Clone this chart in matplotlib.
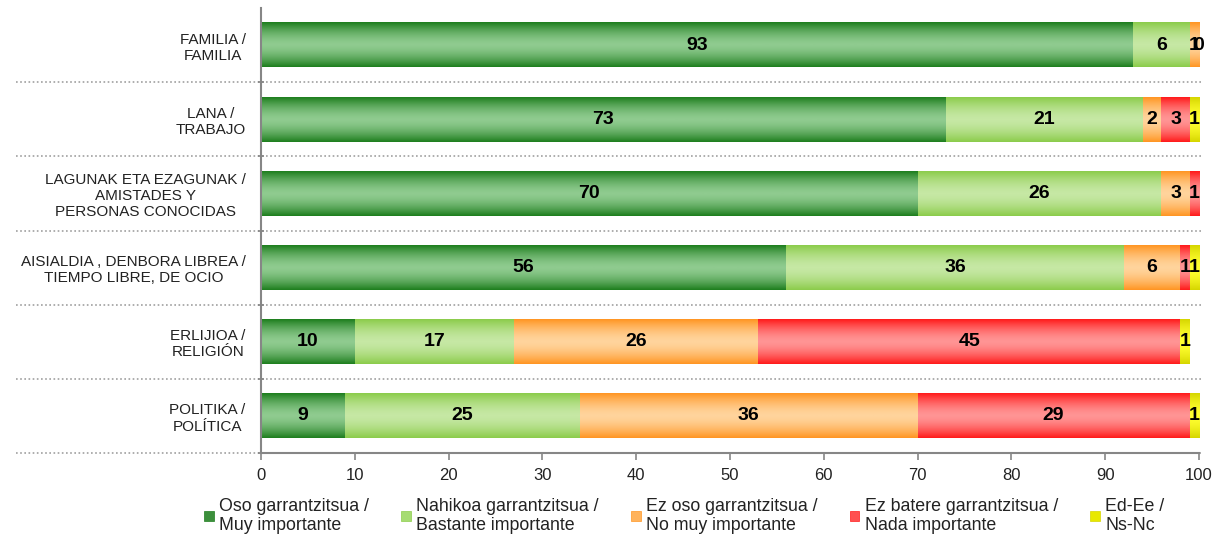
import numpy as np
import matplotlib.pyplot as plt
from matplotlib.colors import LinearSegmentedColormap
from matplotlib.patches import Patch

plt.rcParams['font.family'] = ['Liberation Sans', 'DejaVu Sans']

categories = [
    "FAMILIA /\nFAMILIA",
    "LANA /\nTRABAJO",
    "LAGUNAK ETA EZAGUNAK /\nAMISTADES Y\nPERSONAS CONOCIDAS",
    "AISIALDIA , DENBORA LIBREA /\nTIEMPO LIBRE, DE OCIO",
    "ERLIJIOA /\nRELIGIÓN",
    "POLITIKA /\nPOLÍTICA",
]
series_names = [
    "Oso garrantzitsua /\nMuy importante",
    "Nahikoa garrantzitsua /\nBastante importante",
    "Ez oso garrantzitsua /\nNo muy importante",
    "Ez batere garrantzitsua /\nNada importante",
    "Ed-Ee /\nNs-Nc",
]
muy = [93, 73, 70, 56, 10, 9]
bastante = [6, 21, 26, 36, 17, 25]
no_muy = [1, 2, 3, 6, 26, 36]
nada = [0, 3, 1, 1, 45, 29]
nsnc = [0, 1, 0, 1, 1, 1]
values = [muy, bastante, no_muy, nada, nsnc]

# edge colour, centre colour for the gradient fill
edge_cols = ["#1f7f1f", "#8ccc4c", "#ff9624", "#ff1c1c", "#d6d600"]
mid_cols = ["#8fcb8f", "#c6e8a4", "#ffd49c", "#ff9494", "#ffff30"]
legend_cols = ["#3c8f3c", "#a6dc72", "#ffb35c", "#ff5050", "#e8e800"]

fig = plt.figure(figsize=(12.15, 5.38), dpi=100)
ax = fig.add_axes([0.2148, 0.158, 0.772, 0.827])

bar_h = 0.6
grad = np.abs(np.linspace(-1, 1, 64)) ** 1.6
grad = grad.reshape(-1, 1)
y = np.arange(len(categories))

for k, vals in enumerate(values):
    cmap = LinearSegmentedColormap.from_list("g%d" % k, [mid_cols[k], edge_cols[k]])
    for i, v in enumerate(vals):
        left = sum(values[j][i] for j in range(k))
        if v > 0:
            ax.imshow(grad, cmap=cmap, vmin=0, vmax=1, aspect='auto',
                      extent=(left, left + v, y[i] + bar_h / 2, y[i] - bar_h / 2),
                      interpolation='bilinear', zorder=2)
        if v > 0 or k == 3 and i == 0:
            ax.text(left + v / 2, y[i], str(v), ha='center', va='center',
                    fontsize=14, fontweight='bold', color='black', zorder=4)

ax.set_xlim(0, 100)
ax.set_ylim(len(categories) - 0.5, -0.5)
ax.set_xticks(np.arange(0, 101, 10))
ax.set_yticks(y)
ax.set_yticklabels(categories, fontsize=11, color='#222222')
for lbl in ax.get_yticklabels():
    lbl.set_multialignment('center')
ax.tick_params(axis='y', length=0, pad=11)
ax.set_yticks(np.arange(0.5, len(categories), 1), minor=True)
ax.tick_params(axis='y', which='minor', length=5, direction='inout', color='#868686', width=1.2)
ax.tick_params(axis='x', length=5, color='#868686', width=1.2, labelsize=12,
               labelcolor='#222222', pad=6)

for s in ['top', 'right']:
    ax.spines[s].set_visible(False)
for s in ['left', 'bottom']:
    ax.spines[s].set_color('#868686')
    ax.spines[s].set_linewidth(1.5)

# dotted separators running into the label area
for b in np.arange(0.5, len(categories), 1):
    ax.axhline(b, xmin=-0.261, xmax=1.002, color='#a0a0a0', linestyle=(0, (1, 1.5)),
               linewidth=1.2, clip_on=False, zorder=1)

handles = [Patch(facecolor=legend_cols[k], edgecolor=edge_cols[k], linewidth=0.5)
           for k in range(len(series_names))]
leg = fig.legend(handles, series_names, loc='lower left', bbox_to_anchor=(0.155, -0.022),
                 ncol=5, frameon=False, fontsize=12.8, handlelength=0.55, handleheight=0.55,
                 handletextpad=0.3, columnspacing=1.8, labelspacing=0.2)
for t in leg.get_texts():
    t.set_linespacing(1.15)
    t.set_color('#222222')

fig.savefig("out.png", dpi=100)
